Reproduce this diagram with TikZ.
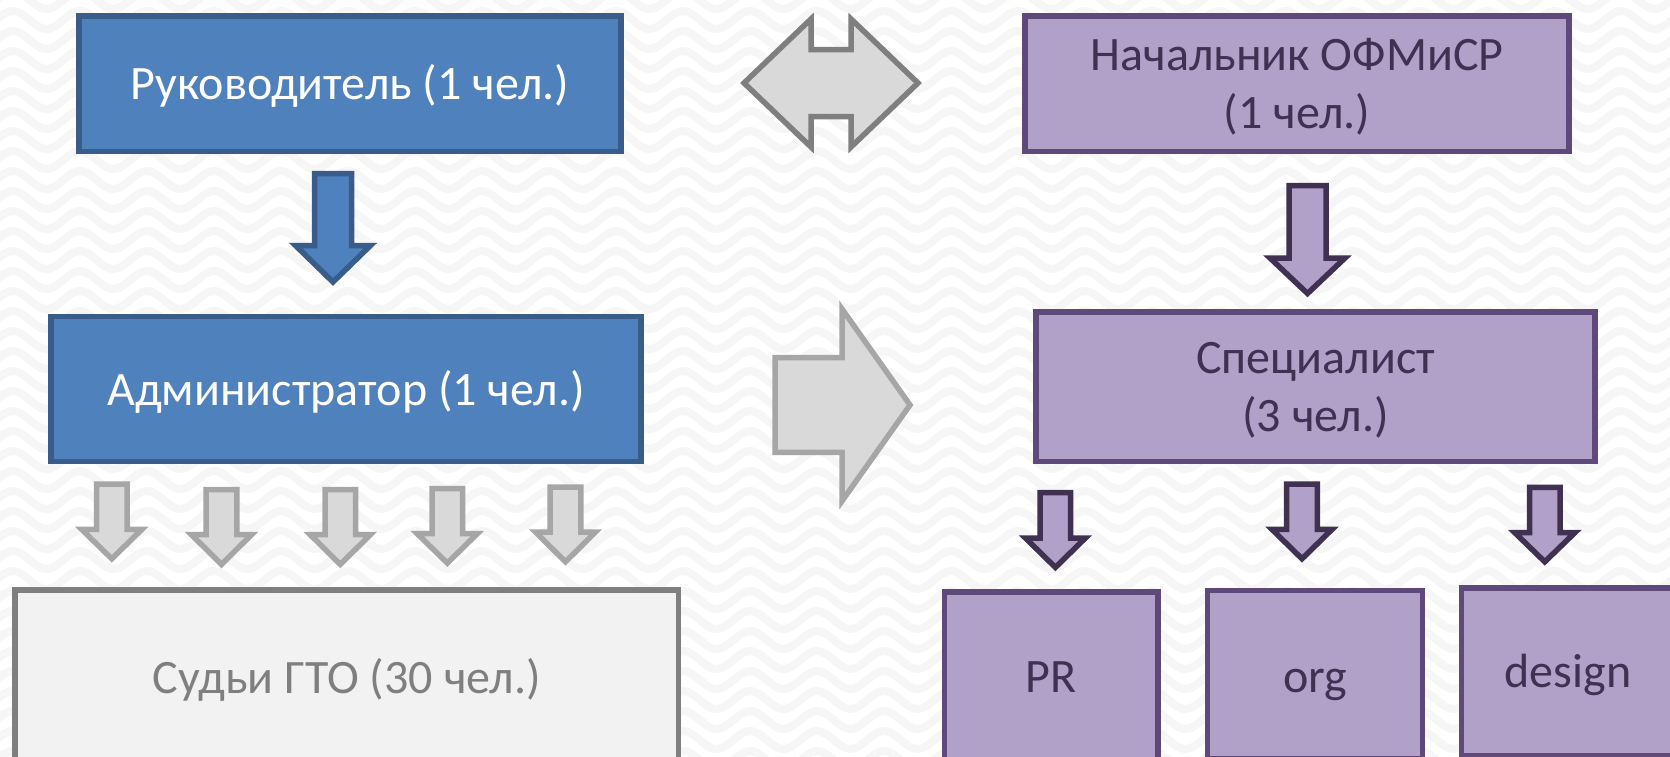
\documentclass[tikz,border=0pt]{standalone}
\usepackage{fontspec}
\setmainfont{Carlito}
\definecolor{bluefill}{HTML}{4F81BD}
\definecolor{blueline}{HTML}{385D8A}
\definecolor{purplefill}{HTML}{B1A0C7}
\definecolor{purpleline}{HTML}{5F497A}
\definecolor{purpledark}{HTML}{403152}
\definecolor{greyfill}{HTML}{F2F2F2}
\definecolor{greyline}{HTML}{7F7F7F}
\definecolor{arrowfill}{HTML}{D9D9D9}
\definecolor{arrowline}{HTML}{A6A6A6}
\definecolor{wave}{HTML}{F6F6F6}
\tikzset{
  x=1pt,y=-1pt,
  boxbase/.style={rectangle,line width=5.5pt,inner sep=0pt,outer sep=0pt,align=center,
    font=\fontsize{48}{58}\selectfont},
  oneline/.style={text height=32pt,text depth=0pt},
  twoline/.style={text depth=0pt},
  bluebox/.style={boxbase,draw=blueline,fill=bluefill,text=white},
  purplebox/.style={boxbase,draw=purpleline,fill=purplefill,text=purpledark},
  greybox/.style={boxbase,draw=greyline,fill=greyfill,text=greyline},
  bluearrow/.style={line width=5.5pt,draw=blueline,fill=bluefill,miter limit=10},
  purplearrow/.style={line width=5.5pt,draw=purpledark,fill=purplefill,miter limit=10},
  greyarrow/.style={line width=5.5pt,draw=arrowline,fill=arrowfill,miter limit=10},
  bigarrow/.style={line width=5.5pt,fill=arrowfill,miter limit=10}
}
% style, centre x, top, wing y, tip y, shaft half width, head half width
\newcommand{\blockdown}[7]{%
  \path[#1] (#2-#6,#3) -- (#2+#6,#3) -- (#2+#6,#4) -- (#2+#7,#4) -- (#2,#5)
    -- (#2-#7,#4) -- (#2-#6,#4) -- cycle;}
\begin{document}
\begin{tikzpicture}
\useasboundingbox (0,0) rectangle (1670,756);
\fill[white] (0,0) rectangle (1670,756);
\begin{scope}
\clip (0,0) rectangle (1670,756);
\foreach \w in {-20,0,...,780}{
  \draw[wave,line width=8pt,line join=round]
    plot[domain=-10:1680,samples=260,smooth] (\x,{\w-9*cos(5.373*(\x-683))});
}
\end{scope}

% boxes
\node[bluebox,oneline,minimum width=542pt,minimum height=135.5pt] (ruk) at (350,83.75) {Руководитель (1 чел.)};
\node[bluebox,oneline,minimum width=590pt,minimum height=144.8pt] (adm) at (346,389) {Администратор (1 чел.)};
\node[greybox,text height=36pt,text depth=0pt,minimum width=663.6pt,minimum height=171pt] (sud) at (346.8,675.5) {Судьи ГТО (30 чел.)};
\node[purplebox,twoline,minimum width=544pt,minimum height=135.5pt] (nach) at (1297,83.75) {Начальник ОФМиСР\\(1 чел.)};
\node[purplebox,twoline,minimum width=559pt,minimum height=149.5pt] (spec) at (1315.5,386.7) {Специалист\\(3 чел.)};
\node[purplebox,oneline,minimum width=213.5pt,minimum height=168pt] (pr) at (1051,676) {PR};
\node[purplebox,text height=35pt,text depth=0pt,minimum width=214.7pt,minimum height=168pt] (org) at (1315,674.7) {org};
\node[purplebox,text height=31pt,text depth=0pt,minimum width=212.6pt,minimum height=167.5pt] (des) at (1568,671.7) {design};

% block arrows
\blockdown{bluearrow}{333}{173.5}{245.5}{282}{18.5}{37.5}
\blockdown{purplearrow}{1307.5}{185.5}{258}{293.5}{18.5}{37.5}
\blockdown{greyarrow}{111.8}{484}{529.4}{558.8}{15.3}{30}
\blockdown{greyarrow}{221.5}{489.7}{534.7}{564.4}{15.3}{30}
\blockdown{greyarrow}{340.3}{489.7}{534.7}{564.4}{15.3}{30}
\blockdown{greyarrow}{447.3}{488.7}{533.7}{563.1}{15.3}{30}
\blockdown{greyarrow}{565.5}{487}{532}{561.8}{15.3}{30}
\blockdown{purplearrow}{1055.4}{492.7}{538}{567.4}{15.3}{30}
\blockdown{purplearrow}{1302}{484}{529.4}{558.8}{15.3}{30}
\blockdown{purplearrow}{1544.8}{487.4}{532.7}{561.8}{15.3}{30}

% double arrow
\path[bigarrow,draw=greyline] (744,83) -- (811,19) -- (811,49.5) -- (851,49.5) -- (851,19)
  -- (918,83) -- (851,147) -- (851,116.7) -- (811,116.7) -- (811,147) -- cycle;
% right arrow
\path[bigarrow,draw=arrowline] (775,357.7) -- (842,357.7) -- (842,309) -- (910,405)
  -- (842,501) -- (842,452.3) -- (775,452.3) -- cycle;
\end{tikzpicture}
\end{document}
